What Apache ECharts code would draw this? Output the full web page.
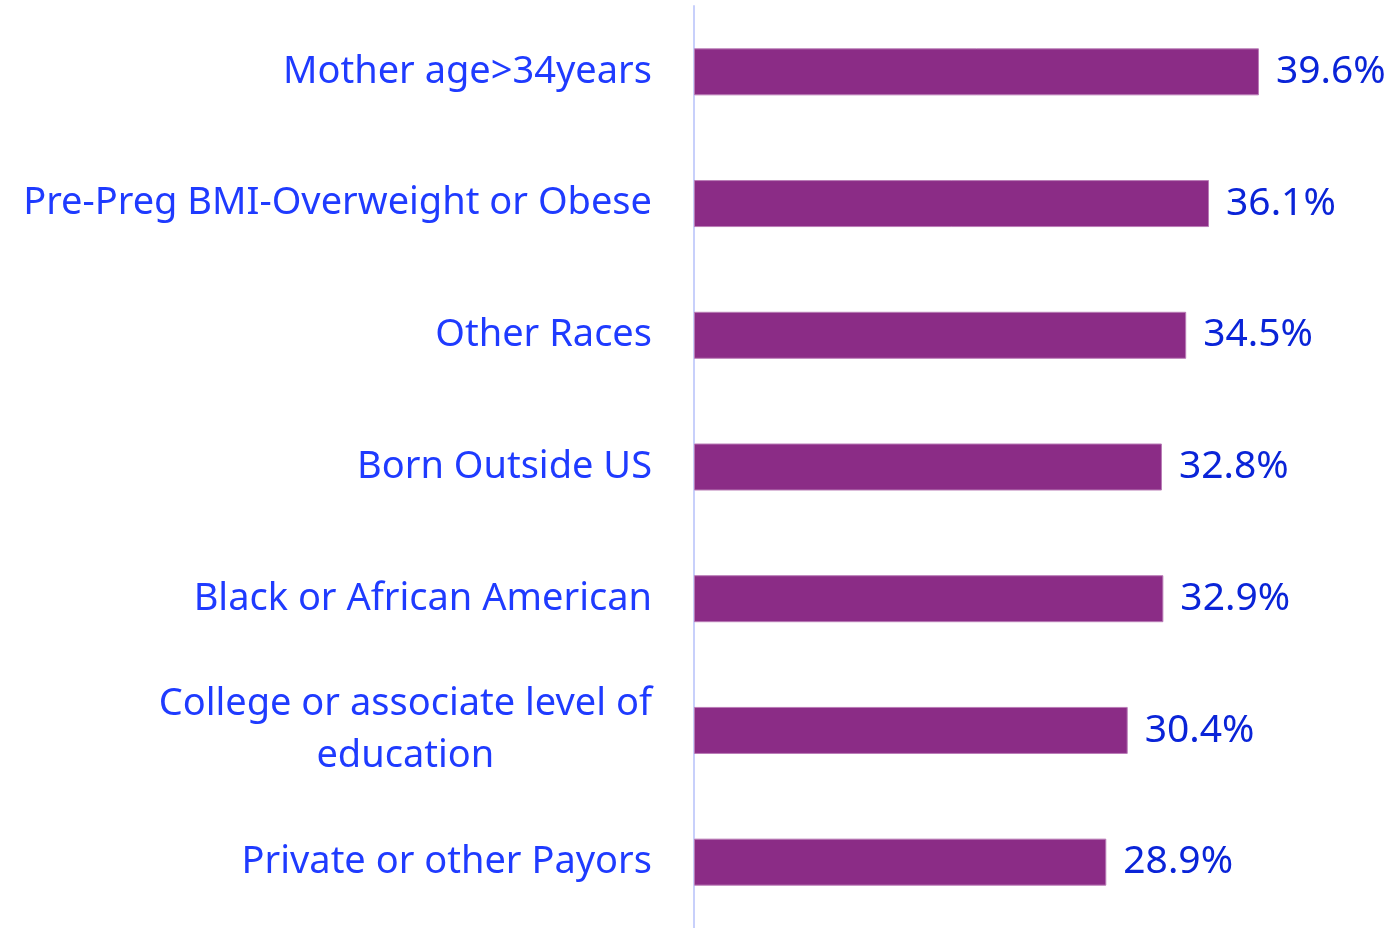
<!DOCTYPE html>
<html>
<head>
<meta charset="utf-8">
<script src="https://cdn.jsdelivr.net/npm/echarts@6/dist/echarts.min.js"></script>
<style>
    html, body { margin: 0; padding: 0; background: #fff; }
    #chart { width: 1398px; height: 928px; }
</style>
</head>
<body>
<div id="chart"></div>
<script>
var categories = [
    'Mother age>34years',
    'Pre-Preg BMI-Overweight or Obese',
    'Other Races',
    'Born Outside US',
    'Black or African American',
    'College or associate level of\neducation',
    'Private or other Payors'
];
var values = [39.6, 36.1, 34.5, 32.8, 32.9, 30.4, 28.9];

var myChart = echarts.init(document.getElementById('chart'));
var option = {
    backgroundColor: '#ffffff',
    animation: false,
    grid: {
        left: 694,
        right: 62,
        top: 6,
        bottom: -1,
        containLabel: false
    },
    xAxis: {
        type: 'value',
        min: 0,
        max: 45,
        show: false
    },
    yAxis: {
        type: 'category',
        inverse: true,
        data: categories,
        axisLine: {
            show: true,
            lineStyle: { color: '#c8d0fb', width: 2 }
        },
        axisTick: { show: false },
        axisLabel: {
            margin: 42,
            formatter: function (v) {
                return v.split('\n').map(function (s) { return '{c|' + s + '}'; }).join('\n');
            },
            rich: {
                c: {
                    align: 'center',
                    fontFamily: 'Noto Sans',
                    fontSize: 38,
                    lineHeight: 52,
                    color: '#1f3bff'
                }
            }
        }
    },
    series: [
        {
            type: 'bar',
            data: values,
            barWidth: 47,
            itemStyle: {
                color: '#8b2c86',
                borderColor: '#b97cb6',
                borderWidth: 1
            },
            label: {
                show: true,
                position: 'right',
                distance: 17,
                formatter: function (p) { return p.value.toFixed(1) + '%'; },
                fontFamily: 'Noto Sans',
                fontSize: 39,
                color: '#0a24d8'
            }
        }
    ]
};
myChart.setOption(option);
</script>
</body>
</html>
